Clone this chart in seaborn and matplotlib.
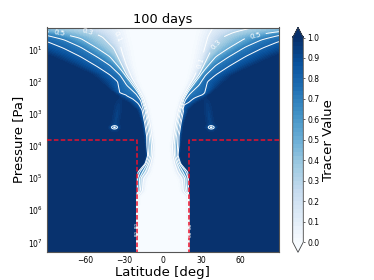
import numpy as np
import matplotlib
matplotlib.use("Agg")
import matplotlib.pyplot as plt
import seaborn as sns

sns.set_style("ticks")
plt.rcParams['font.family'] = ['DejaVu Sans']
plt.rcParams['text.color'] = 'black'
plt.rcParams['axes.labelcolor'] = 'black'
plt.rcParams['xtick.labelcolor'] = 'black'
plt.rcParams['ytick.labelcolor'] = 'black'

title = "100 days"
x_label = "Latitude [deg]"
y_label = "Pressure [Pa]"
cbar_label = "Tracer Value"
lat_ticks = [-60, -30, 0, 30, 60]
cbar_ticks = [0.0, 0.1, 0.2, 0.3, 0.4, 0.5, 0.6, 0.7, 0.8, 0.9, 1.0]
contour_levels = [0.1, 0.3, 0.5, 0.7, 0.8]

# lower branch shared by every curve: log10(pressure)
low_logp = [2.88, 3.30, 3.70, 4.00, 4.30, 4.55, 4.80, 5.00, 5.16, 5.40, 5.55, 6.00, 7.30]

# each tracer value: upper-branch (log10 p, western latitude) then latitudes along low_logp
up_000_p = [0.30, 1.00, 1.50, 2.00, 2.50]
up_000_l = [-28, -24, -22, -19, -13.5]
low_000 = [-10.5, -8.5, -7, -6, -6.5, -7.5, -9, -12, -13, -14, -18, -18.5, -19]

up_010_p = [0.30, 0.60, 1.12, 1.48, 1.90, 2.31, 2.52]
up_010_l = [-39, -35, -31.5, -28.5, -24, -18, -15]
low_010 = [-12.5, -10, -8.5, -7.5, -8, -9.4, -11.5, -15, -15.5, -16, -19.5, -19.7, -19.8]

up_030_p = [0.30, 0.37, 0.46, 0.60, 0.96, 1.38, 1.80, 2.21, 2.52]
up_030_l = [-72, -64, -55, -47, -38, -33, -28, -20, -16]
low_030 = [-13, -11, -9.5, -8.8, -9, -11, -13.5, -17, -17, -17.5, -19.8, -19.9, -19.9]

up_050_p = [0.30, 0.46, 0.50, 0.65, 0.96, 1.22, 1.64, 2.00, 2.31, 2.52]
up_050_l = [-110, -90, -80, -64, -51, -41, -32, -25, -19.5, -16.5]
low_050 = [-13.8, -12, -10.5, -10, -10, -12, -15.5, -18, -18, -18.5, -19.9, -19.95, -19.95]

up_070_p = [0.30, 0.55, 0.68, 0.91, 1.22, 1.48, 1.79, 2.10, 2.37, 2.57]
up_070_l = [-125, -90, -77, -64, -51, -41, -33, -28, -20.5, -17]
low_070 = [-15, -13, -11.5, -11.3, -11, -13, -17.5, -19.5, -19.8, -19.5, -20, -20, -20]

up_080_p = [0.30, 0.75, 0.96, 1.22, 1.53, 1.79, 2.00, 2.37, 2.44, 2.47, 2.52, 2.68]
up_080_l = [-140, -90, -77, -64, -51, -41, -35, -33.5, -27, -28, -24, -19]
low_080 = [-16, -14, -12.5, -12.4, -11.7, -13.7, -19.5, -20, -19.9, -20, -20, -20, -20]
up_080_east_l = [140, 90, 77, 64, 51, 41, 34.5, 32.5, 30, 27, 24, 19]

up_100_p = [0.30, 0.75, 1.22, 1.79, 2.20, 2.52, 2.68]
up_100_l = [-170, -122, -88, -56, -44, -33, -27]
low_100 = [-21, -17, -15.5, -14.5, -14, -15.5, -20.3, -20.3, -20.3, -20.3, -20.3, -20.3, -20.3]

# faint plume and its small closed pocket on each side
plume_logp = [2.45, 2.70, 3.00, 3.25, 3.35, 3.38, 3.42, 3.46, 3.50, 3.60]
plume_lat = [33.5, 34.5, 35.5, 36.5, 37.2, 37.4, 37.5, 37.5, 37.5, 37.5]
plume_dip = [0.01, 0.05, 0.07, 0.07, 0.10, 0.26, 0.38, 0.26, 0.08, 0.02]

# dashed boundary of the tracer region
bound_lat = [90, 20, 20]
bound_logp = [3.80, 3.80, 7.30]

iso_vals = [0.0, 0.1, 0.3, 0.5, 0.7, 0.8, 1.0]
lat = np.linspace(-90, 90, 721)
logp = np.linspace(0.30, 7.30, 561)

def curve(p_up, l_up, l_low):
    return np.abs(np.interp(logp, list(p_up) + low_logp, list(l_up) + l_low))

tab_common = [curve(up_000_p, up_000_l, low_000), curve(up_010_p, up_010_l, low_010),
              curve(up_030_p, up_030_l, low_030), curve(up_050_p, up_050_l, low_050),
              curve(up_070_p, up_070_l, low_070)]
tab_w = tab_common + [curve(up_080_p, up_080_l, low_080), curve(up_100_p, up_100_l, low_100)]
tab_e = tab_common + [curve(up_080_p, up_080_east_l, low_080), curve(up_100_p, up_100_l, low_100)]

field = np.zeros((logp.size, lat.size))
for i in range(logp.size):
    for tab, mask in ((tab_w, lat < 0), (tab_e, lat >= 0)):
        xp = np.array([t[i] for t in tab])
        xp = np.maximum.accumulate(xp) + np.arange(xp.size) * 1e-4
        field[i, mask] = np.interp(np.abs(lat[mask]), xp, iso_vals)

for sign in (-1, 1):
    c_lat = sign * np.interp(logp, plume_logp, plume_lat)
    dip = np.interp(logp, plume_logp, plume_dip, left=0, right=0)
    field -= dip[:, None] * np.exp(-((lat[None, :] - c_lat[:, None]) / 3.4) ** 2)

# slight blur, as in the reference's resampled image
def blur(a, n, axis):
    pad = [(0, 0), (0, 0)]
    pad[axis] = (n, n)
    b = np.pad(a, pad, mode="edge")
    k = np.ones(2 * n + 1) / (2 * n + 1)
    return np.apply_along_axis(lambda v: np.convolve(v, k, mode="valid"), axis, b)

field = blur(blur(field, 3, 0), 2, 1)
field = np.clip(field, 0, 1)
pressure = 10.0 ** logp

fig = plt.figure(figsize=(3.74, 2.80), dpi=100, facecolor="white")
ax = fig.add_axes([46.7 / 374, (280 - 251.7) / 280, 232.3 / 374, 224.2 / 280])
cmap = sns.color_palette("Blues", as_cmap=True)
mesh = ax.contourf(lat, pressure, field, levels=np.linspace(0, 1, 51), cmap=cmap, extend="both")
lines = ax.contour(lat, pressure, field, levels=contour_levels, colors="white", linewidths=0.7)
ax.set_yscale("log")
ax.set_xlim(-90, 90)
ax.set_ylim(10.0 ** 7.29, 10.0 ** 0.315)
ax.clabel(lines, levels=contour_levels[:3], fmt="%.1f", fontsize=5.2, inline=True,
          manual=[(-80, 10 ** 0.48), (-58, 10 ** 0.41), (-35, 10 ** 0.60),
                  (71, 10 ** 0.48), (42, 10 ** 0.85), (27, 10 ** 1.38)])
for x0 in (-22.3, 21.8):
    for yy in (6.50, 6.74):
        ax.text(x0, 10.0 ** yy, "0.8", color="white", fontsize=2.9, rotation=90 if x0 > 0 else -90,
                ha="center", va="center", zorder=6)

for sign in (-1, 1):
    sns.lineplot(x=sign * np.array(bound_lat), y=10.0 ** np.array(bound_logp), ax=ax, sort=False,
                 estimator=None, color="#e8112d", linestyle=(0, (3, 1.5)), linewidth=1.1, legend=False,
                 errorbar=None, zorder=5)

ax.set_xticks(lat_ticks)
ax.set_xticklabels(["\u221260", "\u221230", "0", "30", "60"])
ax.tick_params(which="both", direction="in", top=True, right=True, labelsize=5.5, width=0.5,
               color="#333333", pad=3)
ax.tick_params(which="major", length=2.5)
ax.tick_params(which="minor", length=1.2)
ax.set_yticks([10.0 ** k for k in range(1, 8)])
ax.set_xlabel(x_label, fontsize=9.5, labelpad=1)
ax.set_ylabel(y_label, fontsize=9.5, labelpad=2)
ax.set_title(title, fontsize=9.3, pad=3)
for s in ax.spines.values():
    s.set_linewidth(0.8)
    s.set_color("#555555")

cax = fig.add_axes([292.7 / 374, (280 - 252.3) / 280, 10.6 / 374, 225 / 280])
cb = fig.colorbar(mesh, cax=cax, ticks=cbar_ticks)
cb.ax.tick_params(labelsize=5.5, direction="out", length=1.5, width=0.5, pad=1.5)
cb.outline.set_linewidth(0.6)
cb.outline.set_edgecolor("#444444")
cb.set_label(cbar_label, fontsize=9.5, labelpad=2)
fig.savefig("out.png", dpi=100)
